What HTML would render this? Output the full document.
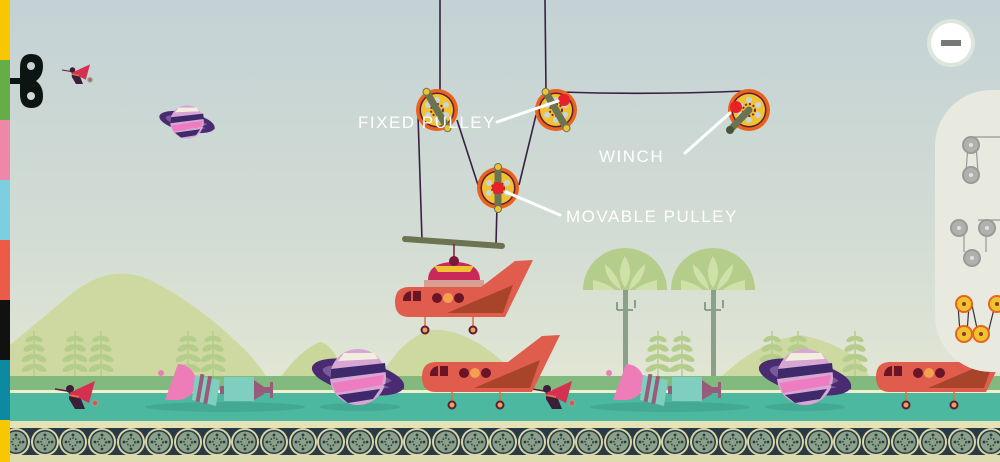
<!DOCTYPE html>
<html><head><meta charset="utf-8"><style>
html,body{margin:0;padding:0;width:1000px;height:462px;overflow:hidden}
svg{display:block}
text{font-family:"Liberation Sans",sans-serif;fill:#fff;font-size:17px;letter-spacing:1.5px}
</style></head><body>
<svg width="1000" height="462" viewBox="0 0 1000 462" xmlns="http://www.w3.org/2000/svg">
<defs>
<linearGradient id="sky" x1="0" y1="0" x2="0" y2="1">
<stop offset="0" stop-color="#c4d2d5"/><stop offset="0.5" stop-color="#d2dcd4"/><stop offset="1" stop-color="#eaebd4"/>
</linearGradient>
<g id="pul">
<circle r="21" fill="#e9631c"/><circle r="17.5" fill="#5a1e3a"/><circle r="16" fill="#f0c232"/>
<circle cx="0" cy="-10" r="3" fill="#c9d4d8"/><circle cx="9" cy="-5" r="3" fill="#c9d4d8"/><circle cx="9" cy="5" r="3" fill="#c9d4d8"/><circle cx="0" cy="10" r="3" fill="#c9d4d8"/><circle cx="-9" cy="5" r="3" fill="#c9d4d8"/><circle cx="-9" cy="-5" r="3" fill="#c9d4d8"/>
<circle r="6" fill="none" stroke="#7a2a3a" stroke-width="2" stroke-dasharray="2 2"/>
</g>
<g id="arm"><line x1="0" y1="-20" x2="0" y2="20" stroke="#6b7350" stroke-width="7" stroke-linecap="round"/><circle cy="-21" r="3.5" fill="#f0c232" stroke="#6b7350"/><circle cy="21" r="3.5" fill="#f0c232" stroke="#6b7350"/></g>
<g id="planet">
<ellipse cx="0" cy="0" rx="47" ry="16" fill="#4a2a70" transform="rotate(12)"/>
<ellipse cx="0" cy="0" rx="36" ry="9" fill="#7a5a9a" transform="rotate(12)"/>
<circle r="28" fill="#d8a6d4"/>
<path d="M-27,-8 L27,-14 L28,-5 L-28,2Z" fill="#3e2a6a"/><path d="M-26,6 L26,-2 L24,8 L-22,16Z" fill="#ee7cc0"/><path d="M-20,18 L22,12 L15,22 L-10,26Z" fill="#3e2a6a"/>
<path d="M-14,-24 L16,-24 L20,-18 L-20,-16Z" fill="#f2eedd"/>
<path d="M25,8 Q40,14 46,12 Q47,7 38,2" fill="#4a2a70"/>
</g>
<g id="plane">
<path d="M14,0 L86,0 L120,-26 L138,-27 L110,30 L14,30 Q0,30 0,15 Q0,0 14,0Z" fill="#e05c4c"/>
<path d="M52,26 L118,-2 L108,26Z" fill="#a8442a"/>
<path d="M8,12 Q9,5 16,4 L16,14 L8,14Z" fill="#6a1428"/><rect x="18" y="4" width="8" height="10" fill="#6a1428"/>
<circle cx="42" cy="11" r="5" fill="#6a1428"/><circle cx="53" cy="11" r="5" fill="#f5a050"/><circle cx="64" cy="11" r="5" fill="#6a1428"/>
<line x1="30" y1="30" x2="30" y2="41" stroke="#e07040" stroke-width="1.5"/><line x1="78" y1="30" x2="78" y2="41" stroke="#e07040" stroke-width="1.5"/>
<circle cx="30" cy="43" r="3.5" fill="#f5a050" stroke="#5a1e3a" stroke-width="2"/><circle cx="78" cy="43" r="3.5" fill="#f5a050" stroke="#5a1e3a" stroke-width="2"/>
</g>
<g id="bird">
<path d="M-20,0 L-8,2" stroke="#5a1e3a" stroke-width="1.5"/>
<circle cx="-5" cy="0" r="4" fill="#3a1e3a"/>
<path d="M-6,4 L6,10 L10,20 L0,20 L-6,10Z" fill="#3a1e3a"/>
<path d="M-6,4 L20,-8 L14,14Z" fill="#d63050"/>
<path d="M-6,6 L4,8" stroke="#ef6a4a" stroke-width="2"/>
<circle cx="20" cy="14" r="3" fill="#ef4a3a" stroke="#7aaa9a" stroke-width="2"/>
</g>
<g id="sat">
<path d="M18,-16 A18,18 0 0 1 18,20 L5,20 Z" fill="#ee7cb8"/>
<circle cx="1" cy="-7" r="3" fill="#ee7cb8"/>
<path d="M35,-5 L60,0 L56,26 L32,20Z" fill="#7ecfc0"/>
<rect x="38" y="-6" width="4" height="28" fill="#9a5a7a" transform="rotate(10 40 8)"/><rect x="46" y="-4" width="4" height="28" fill="#9a5a7a" transform="rotate(10 48 8)"/>
<rect x="60" y="6" width="4" height="8" fill="#9a5a7a"/>
<rect x="64" y="-3" width="30" height="24" fill="#7ecfc0"/>
<path d="M94,0 L104,7 L104,14 L94,20Z" fill="#9a5a7a"/><rect x="104" y="7" width="6" height="6" fill="#9a5a7a"/><rect x="110" y="2" width="3" height="16" fill="#9a5a7a"/>
</g>
<g id="fern" fill="#b5cd8a">
<line x1="0" y1="0" x2="0" y2="-45" stroke="#b5cd8a" stroke-width="1.5"/>
<ellipse cx="-6" cy="-8" rx="7" ry="3" transform="rotate(-25 -6 -8)"/><ellipse cx="6" cy="-8" rx="7" ry="3" transform="rotate(25 6 -8)"/>
<ellipse cx="-6" cy="-18" rx="7" ry="3" transform="rotate(-25 -6 -18)"/><ellipse cx="6" cy="-18" rx="7" ry="3" transform="rotate(25 6 -18)"/>
<ellipse cx="-5" cy="-28" rx="6" ry="3" transform="rotate(-25 -5 -28)"/><ellipse cx="5" cy="-28" rx="6" ry="3" transform="rotate(25 5 -28)"/>
<ellipse cx="-4" cy="-37" rx="5" ry="2.5" transform="rotate(-25 -4 -37)"/><ellipse cx="4" cy="-37" rx="5" ry="2.5" transform="rotate(25 4 -37)"/>
</g>
<g id="tree">
<rect x="-2" y="0" width="5" height="92" fill="#8aa088"/>
<path d="M-42,0 A42,42 0 0 1 42,0Z" fill="#b5cd8a"/>
<path d="M0,-34 Q10,-18 0,-2 Q-10,-18 0,-34Z M-20,-26 Q-6,-14 -4,0 Q-20,-10 -20,-26Z M20,-26 Q6,-14 4,0 Q20,-10 20,-26Z M-32,-10 Q-16,-6 -10,0 L-32,0Z M32,-10 Q16,-6 10,0 L32,0Z" fill="#cfe0a8"/>
<path d="M-8,20 L-8,12 M10,18 L10,10 M-8,20 L8,20" stroke="#8aa088" stroke-width="2" fill="none"/>
</g>
<g id="wheel"><circle r="14" fill="#d8d6a8"/><circle r="12" fill="#2a3a44"/><circle r="10.5" fill="#8aa088"/><circle r="4" fill="none" stroke="#2a3a44" stroke-width="1.5" stroke-dasharray="1.5 1.5"/><circle cy="-7" r="1.4" fill="#2a3a44"/><circle cy="7" r="1.4" fill="#2a3a44"/><circle cx="-7" r="1.4" fill="#2a3a44"/><circle cx="7" r="1.4" fill="#2a3a44"/></g>
<g id="gp"><circle r="9" fill="#9a9a98"/><circle r="7" fill="#b0b0ae"/><circle r="2" fill="#e0e0de"/></g>
<g id="op"><circle r="9" fill="#e9631c"/><circle r="7" fill="#f0c232"/><circle r="2" fill="#8a3a2a"/></g>
</defs>

<rect width="1000" height="462" fill="url(#sky)"/>

<!-- hills -->
<path d="M10,345 Q40,320 70,295 Q110,262 150,280 Q200,305 245,350 Q260,365 268,380 L10,380Z" fill="#cdd9a0"/>
<path d="M280,378 Q300,350 320,342 Q335,345 345,378Z" fill="#c9d79a"/>
<path d="M380,378 Q400,340 430,330 Q470,326 520,378Z" fill="#cdd9a0"/>
<path d="M720,378 Q760,340 800,335 Q830,340 860,360 L870,378Z" fill="#cdd9a0"/>
<use href="#fern" x="34" y="376"/><use href="#fern" x="75" y="376"/><use href="#fern" x="101" y="376"/><use href="#fern" x="188" y="376"/><use href="#fern" x="213" y="376"/>
<use href="#fern" x="658" y="376"/><use href="#fern" x="682" y="376"/><use href="#fern" x="772" y="376"/><use href="#fern" x="798" y="376"/><use href="#fern" x="855" y="376"/>
<use href="#tree" x="625" y="290"/><use href="#tree" x="713" y="290"/>

<!-- ground -->
<rect x="10" y="376" width="990" height="15" fill="#82b97e"/>
<rect x="10" y="390" width="990" height="3" fill="#f2efcc"/>
<rect x="10" y="393" width="990" height="29" fill="#4db8a0"/>
<rect x="10" y="421" width="990" height="8" fill="#e4e2b6"/>
<rect x="10" y="428" width="990" height="27" fill="#2a3a44"/>
<g>
<use href="#wheel" x="16" y="442"/><use href="#wheel" x="45" y="442"/><use href="#wheel" x="73" y="442"/><use href="#wheel" x="102" y="442"/><use href="#wheel" x="131" y="442"/><use href="#wheel" x="159" y="442"/><use href="#wheel" x="188" y="442"/><use href="#wheel" x="217" y="442"/><use href="#wheel" x="245" y="442"/><use href="#wheel" x="274" y="442"/><use href="#wheel" x="303" y="442"/><use href="#wheel" x="331" y="442"/><use href="#wheel" x="360" y="442"/><use href="#wheel" x="389" y="442"/><use href="#wheel" x="417" y="442"/><use href="#wheel" x="446" y="442"/><use href="#wheel" x="475" y="442"/><use href="#wheel" x="503" y="442"/><use href="#wheel" x="532" y="442"/><use href="#wheel" x="561" y="442"/><use href="#wheel" x="589" y="442"/><use href="#wheel" x="618" y="442"/><use href="#wheel" x="647" y="442"/><use href="#wheel" x="675" y="442"/><use href="#wheel" x="704" y="442"/><use href="#wheel" x="733" y="442"/><use href="#wheel" x="761" y="442"/><use href="#wheel" x="790" y="442"/><use href="#wheel" x="819" y="442"/><use href="#wheel" x="847" y="442"/><use href="#wheel" x="876" y="442"/><use href="#wheel" x="905" y="442"/><use href="#wheel" x="933" y="442"/><use href="#wheel" x="962" y="442"/><use href="#wheel" x="991" y="442"/>
</g>
<rect x="10" y="455" width="990" height="7" fill="#dcdcb0"/>

<!-- shadows -->
<ellipse cx="225" cy="407" rx="80" ry="5" fill="#3f9e8a" opacity=".6"/>
<ellipse cx="670" cy="407" rx="80" ry="5" fill="#3f9e8a" opacity=".6"/>
<ellipse cx="360" cy="407" rx="40" ry="4" fill="#3f9e8a" opacity=".6"/>
<ellipse cx="805" cy="407" rx="40" ry="4" fill="#3f9e8a" opacity=".6"/>

<!-- ground objects -->
<use href="#bird" x="75" y="389"/><use href="#bird" x="552" y="389"/>
<use href="#sat" x="160" y="380"/><use href="#sat" x="608" y="380"/>
<use href="#planet" x="358" y="377"/><use href="#planet" x="805" y="377"/>
<use href="#plane" x="422" y="362"/><use href="#plane" x="876" y="362"/>

<!-- sky objects -->
<g transform="translate(76 70) scale(.7)"><use href="#bird"/></g>
<g transform="translate(187 122) scale(.6)"><use href="#planet"/></g>

<!-- ropes -->
<g stroke="#3a2040" stroke-width="1.6" fill="none">
<line x1="440" y1="0" x2="440" y2="92"/>
<line x1="545" y1="0" x2="546" y2="92"/>
<line x1="418" y1="115" x2="422" y2="240"/>
<line x1="457" y1="120" x2="478" y2="185"/>
<line x1="519" y1="185" x2="536" y2="115"/>
<path d="M560,92 Q650,95 745,91"/>
<line x1="497" y1="205" x2="496" y2="244"/>
</g>
<line x1="405" y1="239" x2="502" y2="246" stroke="#6b7350" stroke-width="6" stroke-linecap="round"/>
<line x1="454" y1="244" x2="454" y2="258" stroke="#7a1a3a" stroke-width="1.5"/>

<!-- pulleys -->
<use href="#pul" x="437" y="110"/><use href="#arm" transform="translate(437 110) rotate(-30)"/>
<use href="#pul" x="556" y="110"/><use href="#arm" transform="translate(556 110) rotate(-30)"/><circle cx="564" cy="100" r="6" fill="#e8202a"/>
<use href="#pul" x="498" y="188"/><use href="#arm" transform="translate(498 188)"/><circle cx="498" cy="188" r="6" fill="#e8202a"/>
<use href="#pul" x="749" y="110"/><line x1="749" y1="110" x2="730" y2="130" stroke="#6b7350" stroke-width="7" stroke-linecap="round"/><circle cx="730" cy="130" r="4" fill="#4a5238"/><circle cx="736" cy="107" r="6" fill="#e8202a"/>

<!-- hanging plane -->
<path d="M428,280 Q428,264 450,262 L458,262 Q480,264 480,280Z" fill="#c8285a"/>
<path d="M434,266 L474,266 L470,272 L438,272Z" fill="#f0c232"/>
<circle cx="454" cy="261" r="5" fill="#7a1a3a"/>
<rect x="424" y="280" width="60" height="7" fill="#d8a090"/>
<use href="#plane" x="395" y="287"/>

<!-- labels -->
<g stroke="#fff" stroke-width="3" stroke-linecap="round"><line x1="497" y1="122" x2="558" y2="101"/><line x1="685" y1="153" x2="730" y2="113"/><line x1="506" y1="192" x2="560" y2="215"/></g>
<text x="358" y="128">FIXED PULLEY</text>
<text x="599" y="162">WINCH</text>
<text x="566" y="222">MOVABLE PULLEY</text>

<!-- left bar -->
<rect x="0" y="0" width="10" height="60" fill="#f8c700"/><rect x="0" y="60" width="10" height="60" fill="#66ad47"/><rect x="0" y="120" width="10" height="60" fill="#ef87a9"/><rect x="0" y="180" width="10" height="60" fill="#7ccfdf"/><rect x="0" y="240" width="10" height="60" fill="#ee5a48"/><rect x="0" y="300" width="10" height="60" fill="#111"/><rect x="0" y="360" width="10" height="60" fill="#0d8aa2"/><rect x="0" y="420" width="10" height="42" fill="#f8c700"/>
<!-- logo -->
<rect x="10" y="78" width="12" height="6" fill="#0c1512"/>
<path d="M20,68 Q20,54 31,54 Q43,54 43,66 Q43,76 36,81 Q43,86 43,96 Q43,108 31,108 Q20,108 20,94Z" fill="#0c1512"/>
<circle cx="31" cy="66" r="4" fill="#c4d2d5"/><circle cx="31" cy="96" r="4" fill="#d0d9d4"/>

<!-- minus button -->
<circle cx="951" cy="43" r="24" fill="#dde6dc"/><circle cx="951" cy="43" r="20" fill="#fff"/><rect x="941" y="40" width="20" height="6" fill="#777"/>

<!-- right panel -->
<rect x="935" y="90" width="120" height="282" rx="56" fill="#e8e9df"/>
<g stroke="#999" stroke-width="1.2" fill="none"><path d="M972,137 L1000,137 M968,145 L966,172 M976,145 L978,172 M978,220 L1000,220 M964,229 L964,252 M986,229 L986,252"/></g>
<use href="#gp" x="971" y="145"/><use href="#gp" x="971" y="175"/>
<use href="#gp" x="959" y="228"/><use href="#gp" x="987" y="228"/><use href="#gp" x="972" y="258"/>
<g stroke="#333" stroke-width="1.2"><line x1="958" y1="305" x2="960" y2="333"/><line x1="969" y1="305" x2="967" y2="333"/><line x1="972" y1="305" x2="978" y2="333"/><line x1="995" y1="305" x2="988" y2="333"/></g>
<use href="#op" x="964" y="304"/><use href="#op" x="964" y="334"/><use href="#op" x="981" y="334"/><use href="#op" x="997" y="304"/>
</svg>
</body></html>
